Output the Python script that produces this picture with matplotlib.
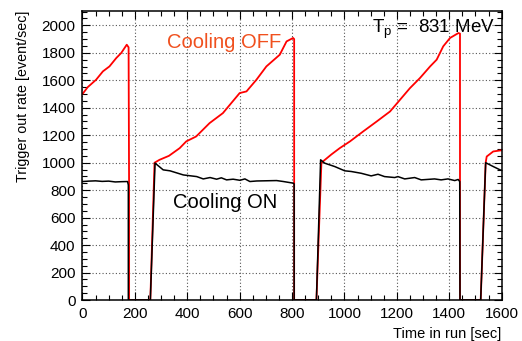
import matplotlib
matplotlib.use("Agg")
from matplotlib import pyplot as plt
from matplotlib.ticker import MultipleLocator

# Cooling OFF (red) - time [sec], rate [event/sec]
off_time = [0, 20, 52, 78, 103, 129, 148, 169, 176, 178, 178, 259,
            275, 294, 330, 371, 396, 434, 485, 536, 568, 600, 626, 664,
            702, 753, 779, 804, 808, 808, 893, 912, 950, 982, 1021, 1071,
            1123, 1174, 1212, 1250, 1288, 1327, 1352, 1377, 1403, 1435, 1441,
            1441, 1520, 1539, 1543, 1568, 1594, 1600]
off_rate = [1500, 1550, 1604, 1665, 1701, 1762, 1799, 1859, 1840, 770, 0, 0,
            1000, 1021, 1050, 1106, 1155, 1191, 1288, 1361, 1434, 1507, 1519, 1604,
            1701, 1786, 1883, 1908, 1900, 0, 0, 1000, 1060, 1106, 1155, 1227,
            1300, 1373, 1458, 1543, 1616, 1701, 1750, 1847, 1908, 1944, 1940,
            0, 0, 1000, 1045, 1082, 1089, 1090]

# Cooling ON (black)
on_time = [0, 25, 50, 75, 100, 125, 150, 172, 175, 175, 259,
           277, 308, 334, 385, 436, 461, 487, 512, 530, 550, 575, 601, 620, 639,
           665, 741, 767, 805, 808, 808,
           893, 909, 924, 963, 1001, 1026, 1064, 1102, 1128, 1153, 1192, 1204,
           1230, 1268, 1293, 1344, 1369, 1395, 1421, 1434, 1440, 1441,
           1520, 1539, 1568, 1594, 1600]
on_rate = [863, 866, 868, 864, 866, 860, 862, 863, 838, 0, 0,
           997, 948, 941, 911, 899, 882, 892, 880, 890, 875, 880, 872, 882, 863,
           867, 870, 863, 851, 845, 0,
           0, 1021, 997, 972, 941, 936, 923, 904, 916, 899, 892, 899,
           882, 892, 875, 882, 875, 882, 870, 878, 863, 0,
           0, 1000, 972, 948, 945]

plt.rcParams['font.family'] = ['Liberation Sans', 'DejaVu Sans']
plt.rcParams['mathtext.fontset'] = 'custom'
plt.rcParams['mathtext.rm'] = 'Liberation Sans'

fig = plt.figure(figsize=(5.22, 3.41), dpi=100)
ax = fig.add_axes([0.158, 0.12, 0.803, 0.848])

ax.plot(off_time, off_rate, color='#ff0000', lw=1.3, zorder=2)
ax.plot(on_time, on_rate, color='black', lw=1.1, zorder=3)

ax.set_xlim(0, 1600)
ax.set_ylim(0, 2105)
ax.xaxis.set_major_locator(MultipleLocator(200))
ax.xaxis.set_minor_locator(MultipleLocator(50))
ax.yaxis.set_major_locator(MultipleLocator(200))
ax.yaxis.set_minor_locator(MultipleLocator(50))
ax.tick_params(which='both', direction='in', top=True, right=True,
               labelsize=11, width=0.8, pad=5)
ax.tick_params(which='major', length=6)
ax.tick_params(which='minor', length=3.5)
ax.grid(True, which='major', linestyle=(0, (1, 2)), color='#555555', lw=0.8)
for s in ax.spines.values():
    s.set_linewidth(1.1)

ax.set_ylabel('Trigger out rate [event/sec]', fontsize=10.3, loc='top', labelpad=8)
ax.set_xlabel('Time in run [sec]', fontsize=10.5, loc='right', labelpad=4)

ax.text(321, 1835, 'Cooling OFF', color='#f0501e', fontsize=14.5)
ax.text(346, 669, 'Cooling ON', color='black', fontsize=14.5)
ax.text(0.984, 0.923, r'T$_\mathregular{p}$ =  831 MeV', transform=ax.transAxes,
        ha='right', va='baseline', fontsize=13.5)

fig.savefig('out.png', dpi=100)
